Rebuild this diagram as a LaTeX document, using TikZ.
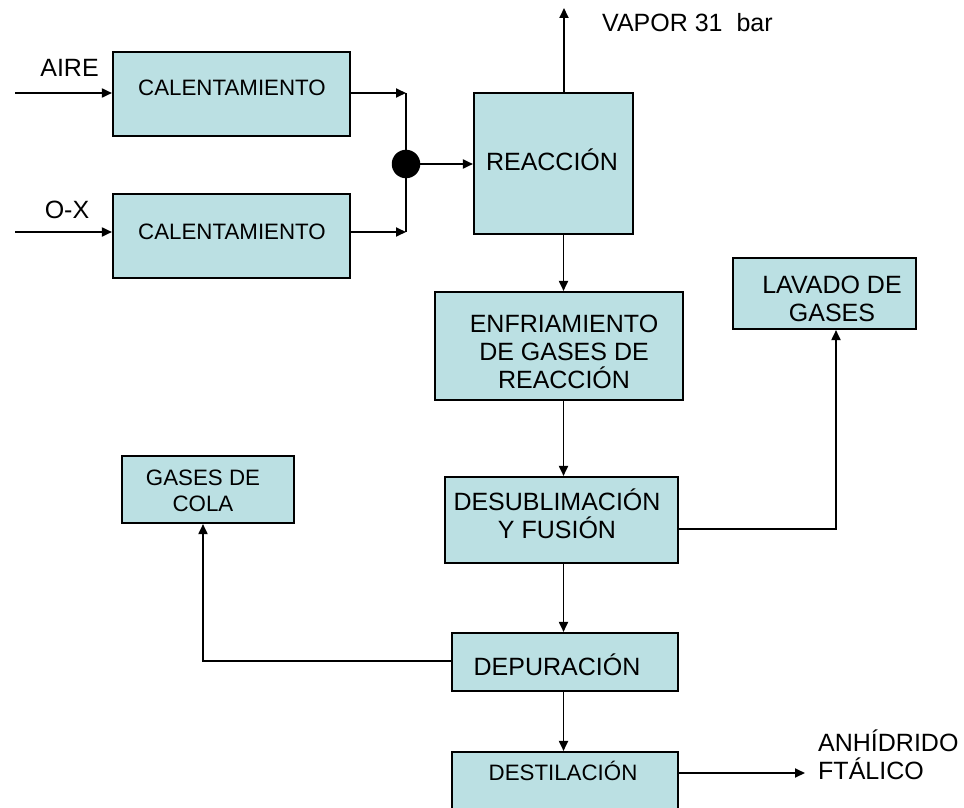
\documentclass[tikz,border=0pt]{standalone}
\usepackage{fontspec}
\setmainfont{Liberation Sans}
\usetikzlibrary{arrows.meta}
\definecolor{boxfill}{RGB}{187,224,227}
\begin{document}
\begin{tikzpicture}[x=1pt,y=-1pt,
  box/.style={draw=black, line width=2.1pt, fill=boxfill, inner sep=0pt},
  txt/.style={font=\fontsize{25}{28}\selectfont, align=center, inner sep=0pt, text=black},
  smalltxt/.style={font=\fontsize{22.3}{26}\selectfont, align=center, inner sep=0pt, text=black},
  flow/.style={line width=1.8pt, -{Triangle[length=10pt,width=9pt]}},
  pipe/.style={line width=1.8pt}]
\useasboundingbox (0,0) rectangle (964,808);
\clip (0,0) rectangle (964,808);

% boxes
\node[box, minimum width=237pt, minimum height=84pt,
  label={[smalltxt, xshift=0.5pt, yshift=6pt]center:CALENTAMIENTO}] (cal1) at (231.5,94) {};
\node[box, minimum width=237pt, minimum height=84pt,
  label={[smalltxt, xshift=0.5pt, yshift=4pt]center:CALENTAMIENTO}] (cal2) at (231.5,236) {};
\node[box, minimum width=159pt, minimum height=141pt,
  label={[txt, xshift=-1.5pt, yshift=3.5pt]center:REACCIÓN}] (reac) at (553.5,163.5) {};
\node[box, minimum width=248pt, minimum height=108pt,
  label={[txt, xshift=5pt, yshift=-6pt]center:ENFRIAMIENTO\\DE GASES DE\\REACCIÓN}] (enfr) at (559,346) {};
\node[box, minimum width=183pt, minimum height=71pt,
  label={[txt, xshift=7.5pt, yshift=-5pt]center:LAVADO DE\\GASES}] (lav) at (824.5,293.5) {};
\node[box, minimum width=172pt, minimum height=67pt,
  label={[smalltxt, xshift=-5pt, yshift=-1.5pt]center:GASES DE\\COLA}] (gcola) at (208,489.5) {};
\node[box, minimum width=233pt, minimum height=86pt,
  label={[txt, xshift=-4.5pt, yshift=6.5pt]center:DESUBLIMACIÓN\\Y FUSIÓN}] (desub) at (561.5,520) {};
\node[box, minimum width=226pt, minimum height=58pt,
  label={[txt, xshift=-8pt, yshift=-2.7pt]center:DEPURACIÓN}] (depur) at (565,662) {};
\node[box, minimum width=226pt, minimum height=80pt,
  label={[smalltxt, xshift=-2pt, yshift=21pt]center:DESTILACIÓN}] (destil) at (565,792) {};

% junction dot
\node[circle, fill=black, inner sep=0pt, minimum size=28.5pt] (mix) at (406,164) {};

% free texts
\node[txt] (aire) at (69.5,68) {AIRE};
\node[txt] (ox) at (67,210) {O-X};
\node[txt, anchor=west] (vapor) at (602,23) {VAPOR 31\ \ bar};
\node[txt, anchor=west, align=left] (anh) at (818,755) {ANHÍDRIDO\\FTÁLICO};

% helper coordinates
\coordinate (a1) at (15,93);
\coordinate (o1) at (15,232);
\coordinate (j1) at (406,93);
\coordinate (j2) at (406,232);
\coordinate (vap) at (564,8);
\coordinate (xm) at (563.5,0);
\coordinate (yl) at (0,529);
\coordinate (xl) at (836,0);
\coordinate (yd) at (0,661);
\coordinate (xg) at (203,0);
\coordinate (prod) at (805,773);

% connectors
\draw[flow] (a1) -- (a1 -| cal1.west);
\draw[flow] (o1) -- (o1 -| cal2.west);
\draw[flow] (cal1.east |- j1) -- (j1);
\draw[flow] (cal2.east |- j2) -- (j2);
\draw[pipe] (j1) -- (j2);
\draw[flow] (mix.east) -- (mix.east -| reac.west);
\draw[flow] (vap |- reac.north) -- (vap);
\draw[flow] (reac.south -| xm) -- (enfr.north -| xm);
\draw[flow] (enfr.south -| xm) -- (desub.north -| xm);
\draw[flow] (desub.south -| xm) -- (depur.north -| xm);
\draw[flow] (depur.south -| xm) -- (destil.north -| xm);
\draw[flow] (desub.east |- yl) -| (lav.south -| xl);
\draw[flow] (depur.west |- yd) -| (gcola.south -| xg);
\draw[flow] (destil.east |- prod) -- (prod);
\end{tikzpicture}
\end{document}
